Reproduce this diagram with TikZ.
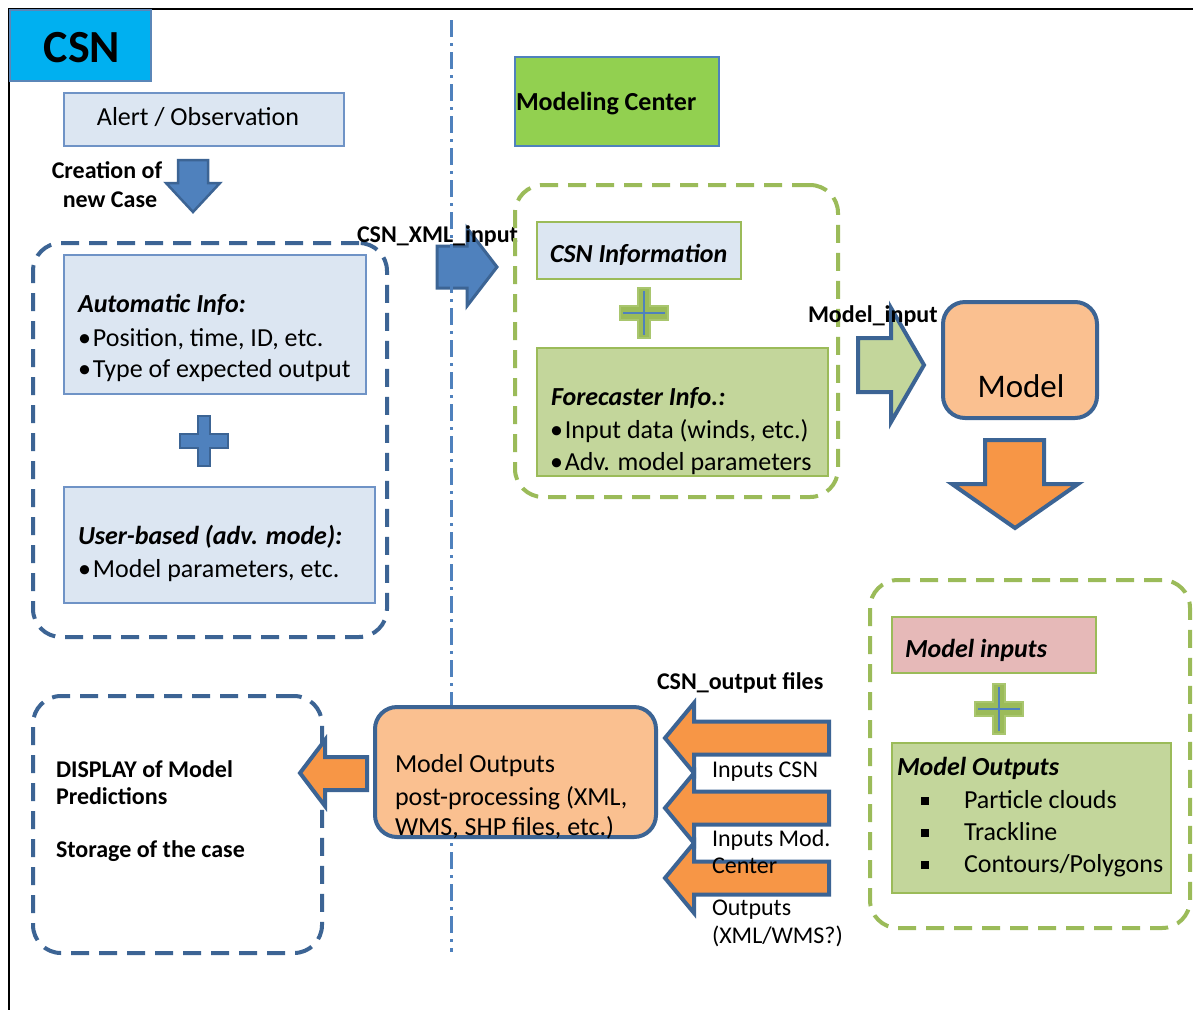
\documentclass[tikz,border=0pt]{standalone}
\usepackage{fontspec}
\setmainfont{Carlito}
\definecolor{frameblue}{HTML}{3C6494}
\definecolor{accentblue}{HTML}{4F81BD}
\definecolor{lightbg}{HTML}{DCE6F2}
\definecolor{lightbd}{HTML}{6F93C6}
\definecolor{leaf}{HTML}{9BBB59}
\definecolor{leafedge}{HTML}{A9C66E}
\definecolor{leaffill}{HTML}{C3D69B}
\definecolor{peach}{HTML}{FAC090}
\definecolor{tang}{HTML}{F79646}
\definecolor{rose}{HTML}{E6B9B8}
\definecolor{sky}{HTML}{00B0F0}
\definecolor{lime}{HTML}{92D050}
\definecolor{csnedge}{HTML}{5A86B8}
\tikzset{
  every node/.style={inner sep=0pt, outer sep=0pt},
  body/.style={anchor=base west, font=\fontsize{26}{32}\selectfont},
  small/.style={anchor=base west, font=\fontsize{24}{29}\selectfont},
  tag/.style={anchor=base west, font=\fontsize{24}{29}\selectfont\bfseries},
  head/.style={anchor=base west, font=\fontsize{26}{32}\selectfont\bfseries\itshape},
  panel/.style={anchor=north west},
  bluepanel/.style={panel, draw=lightbd, fill=lightbg, line width=2pt},
  greenpanel/.style={panel, draw=leaf, line width=2pt},
  softbox/.style={panel, draw=frameblue, fill=peach, line width=4pt, rounded corners=22pt},
  groupframe/.style={panel, line width=4pt, dash pattern=on 18pt off 10pt, rounded corners=28pt},
  blockarrow/.style={line width=4pt, draw=frameblue, line join=miter},
  crossmark/.pic={
    \path[pic actions] (-24,-7) -- (-6,-7) -- (-6,-25) -- (6,-25) -- (6,-7) -- (24,-7)
      -- (24,7) -- (6,7) -- (6,25) -- (-6,25) -- (-6,7) -- (-24,7) -- cycle;
  },
  crossline/.pic={
    \draw[pic actions] (-21,0) -- (21,0) (0,-22) -- (0,22);
  },
}
\newcommand\squarebullet{\rule[3pt]{8pt}{8pt}\hspace{35pt}}
\begin{document}
\begin{tikzpicture}[x=1pt,y=-1pt]
\useasboundingbox (0,0) rectangle (1193,1010);
\fill[white] (0,0) rectangle (1193,1010);

% page frame
\draw[black, line width=1.5pt] (1193,9) -- (9,9) -- (9,1010);

% ---------- CSN side ----------
\node[panel, draw=csnedge, fill=sky, line width=2pt, minimum width=141pt, minimum height=71pt] (csn) at (10,10) {};
\node[anchor=base, font=\fontsize{46}{50}\selectfont\bfseries] (csnlabel) at (82,62) {CSN};

\node[bluepanel, minimum width=280pt, minimum height=53pt] (alert) at (64,93) {};
\node[anchor=base, font=\fontsize{26}{32}\selectfont] (alerttext) at (198,125) {Alert / Observation};

\node[anchor=base, font=\fontsize{24}{29}\selectfont\bfseries] (creation1) at (107,178) {Creation of};
\node[anchor=base, font=\fontsize{24}{29}\selectfont\bfseries] (creation2) at (110,207) {new Case};
\fill[accentblue, draw=frameblue, line width=2.5pt, line join=miter]
  (178,160) -- (208,160) -- (208,183) -- (220,183) -- (193,212) -- (166,183) -- (178,183) -- cycle;

\node[groupframe, draw=frameblue, minimum width=354pt, minimum height=394pt] (csngroup) at (33,243) {};
\node[bluepanel, minimum width=302pt, minimum height=139pt] (autoinfo) at (64,255) {};
\node[head] (autohead) at (78,312) {Automatic Info:};
\node[body] (auto1) at (78,346) {•\hspace{2pt}Position, time, ID, etc.};
\node[body] (auto2) at (78,377) {•\hspace{2pt}Type of expected output};
\pic[fill=accentblue, draw=frameblue, line width=2.5pt] at (204,441) {crossmark};
\node[bluepanel, minimum width=311pt, minimum height=116pt] (userinfo) at (64,487) {};
\node[head] (userhead) at (78,544) {User-based (adv. mode):};
\node[body] (user1) at (78,577) {•\hspace{2pt}Model parameters, etc.};

% CSN -> Modeling Center
\fill[accentblue, draw=frameblue, line width=3pt, line join=miter]
  (437,246) -- (467,246) -- (467,228) -- (497,267) -- (467,306) -- (467,288) -- (437,288) -- cycle;

% divider
\draw[accentblue, line width=3pt, dash pattern=on 17pt off 6pt on 3pt off 6pt] (451,20) -- (451,952);

\node[tag] (xmlinput) at (357,242) {CSN\_XML\_input};

% ---------- Modeling Center side ----------
\node[panel, draw=accentblue, fill=lime, line width=1.5pt, minimum width=204pt, minimum height=89pt] (center) at (515,57) {};
\node[anchor=base west, font=\fontsize{26}{32}\selectfont\bfseries] (centertext) at (516,110) {Modeling Center};

\node[groupframe, draw=leaf, minimum width=323pt, minimum height=312pt] (centergroup) at (515,185) {};
\node[greenpanel, fill=lightbg, minimum width=204pt, minimum height=57pt] (csninfo) at (537,222) {};
\node[head] (csninfotext) at (550,262) {CSN Information};
\pic[fill=leaf, draw=leafedge, line width=2pt] at (644,313) {crossmark};
\pic[draw=accentblue, line width=2pt] at (644,313) {crossline};
\node[greenpanel, fill=leaffill, minimum width=291pt, minimum height=128pt] (forecast) at (537,348) {};
\node[head] (forehead) at (551,405) {Forecaster Info.:};
\node[body] (fore1) at (550,438) {•\hspace{2pt}Input data (winds, etc.)};
\node[body] (fore2) at (550,470) {•\hspace{2pt}Adv. model parameters};

% inputs -> model
\fill[leaffill, blockarrow]
  (858,338) -- (891,338) -- (891,308) -- (924,365) -- (891,422) -- (891,392) -- (858,392) -- cycle;
\node[tag] (modelinput) at (808,322) {Model\_input};

\node[softbox, minimum width=154pt, minimum height=116pt] (model) at (943,302) {};
\node[anchor=base, font=\fontsize{33}{38}\selectfont] (modeltext) at (1021,397) {Model};

% model -> results
\fill[tang, blockarrow]
  (985,440) -- (1044,440) -- (1044,484) -- (1078,484) -- (1015,528) -- (952,484) -- (985,484) -- cycle;

\node[groupframe, draw=leaf, minimum width=320pt, minimum height=348pt] (resultgroup) at (870,580) {};
\node[greenpanel, fill=rose, minimum width=204pt, minimum height=56pt] (modelinputs) at (892,617) {};
\node[head] (modelinputstext) at (905,657) {Model inputs};
\pic[fill=leaf, draw=leafedge, line width=2pt] at (999,709) {crossmark};
\pic[draw=accentblue, line width=2pt] at (999,709) {crossline};
\node[greenpanel, fill=leaffill, minimum width=279pt, minimum height=150pt] (modeloutputs) at (892,743) {};
\node[head] (outhead) at (897,775) {Model Outputs};
\node[body] (out1) at (921,808) {\squarebullet Particle clouds};
\node[body] (out2) at (921,840) {\squarebullet Trackline};
\node[body] (out3) at (921,872) {\squarebullet Contours/Polygons};

% results -> post-processing
\foreach \c in {738,808,878}{
  \fill[tang, blockarrow]
    (829,\c-16.5) -- (694,\c-16.5) -- (694,\c-35) -- (665,\c) -- (694,\c+35)
    -- (694,\c+16.5) -- (829,\c+16.5) -- cycle;
}
\node[tag] (outputfiles) at (657,689) {CSN\_output files};
\node[small] (lab1) at (712,777) {Inputs CSN};
\node[small] (lab2) at (712,846) {Inputs Mod.};
\node[small] (lab3) at (712,873) {Center};
\node[small] (lab4) at (712,915) {Outputs};
\node[small] (lab5) at (712,943) {(XML/WMS?)};

\node[softbox, minimum width=281pt, minimum height=130pt] (post) at (375,707) {};
\node[body] (post1) at (395,772) {Model Outputs};
\node[body] (post2) at (395,805) {post-processing (XML,};
\node[body] (post3) at (395,835) {WMS, SHP files, etc.)};

\node[groupframe, draw=frameblue, minimum width=289pt, minimum height=257pt] (display) at (33,696) {};
\fill[tang, blockarrow]
  (367,757) -- (325,757) -- (325,740) -- (300,773) -- (325,806) -- (325,790) -- (367,790) -- cycle;
\node[tag] (disp1) at (56,777) {DISPLAY of Model};
\node[tag] (disp2) at (56,804) {Predictions};
\node[tag] (disp3) at (56,857) {Storage of the case};
\end{tikzpicture}
\end{document}
